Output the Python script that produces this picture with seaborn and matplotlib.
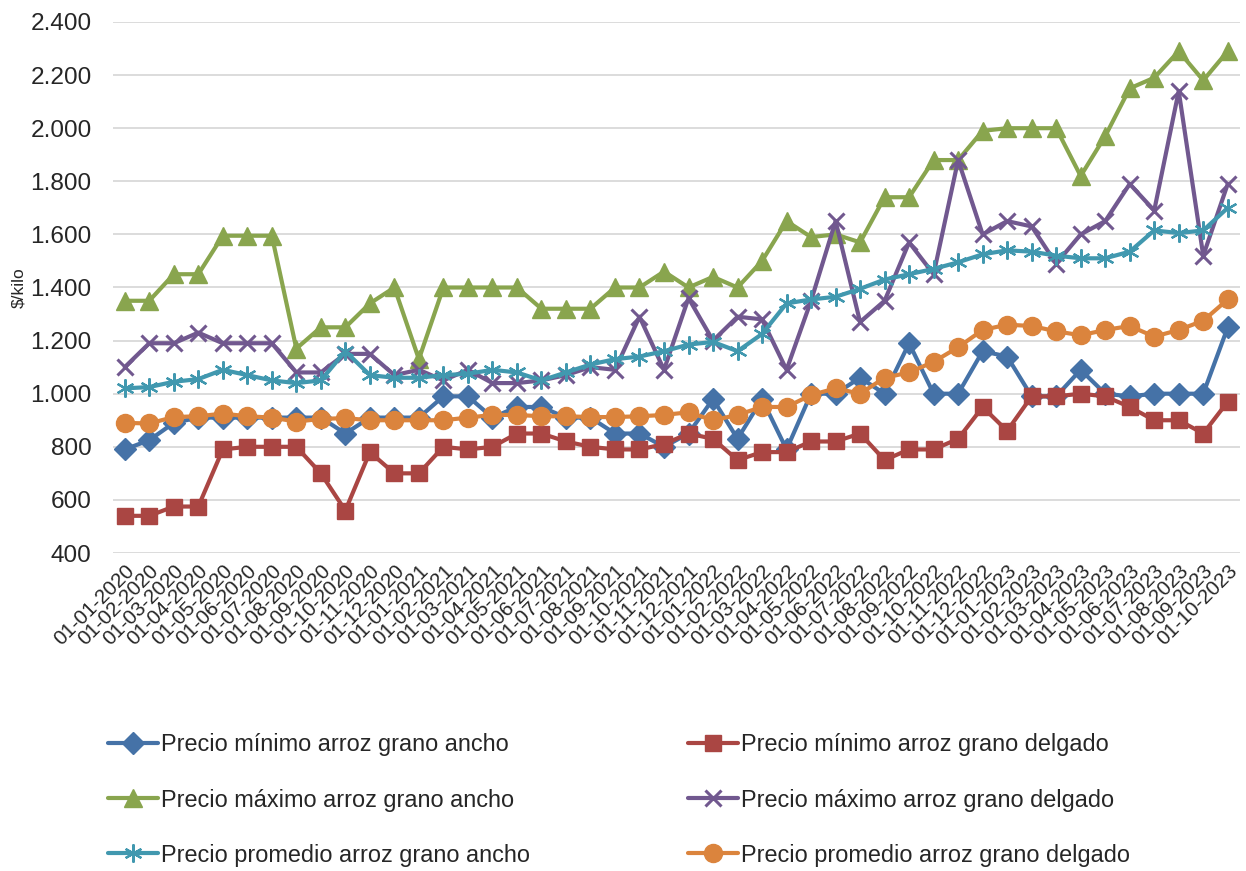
import numpy as np
import pandas as pd
import matplotlib
matplotlib.use("Agg")
import matplotlib.pyplot as plt
import seaborn as sns
from matplotlib.ticker import FuncFormatter, MultipleLocator

# Monthly rice prices ($/kilo), Jan 2020 - Oct 2023
fechas = list(pd.date_range("2020-01-01", "2023-10-01", freq="MS").strftime("%d-%m-%Y"))

min_ancho = [790, 825, 890, 910, 910, 910, 910, 910, 910, 850,
             910, 910, 910, 990, 990, 910, 950, 950, 910, 910,
             850, 850, 800, 850, 980, 830, 980, 790, 1000, 1000,
             1060, 1000, 1190, 1000, 1000, 1160, 1140, 990, 990, 1090,
             1000, 990, 1000, 1000, 1000, 1250]
min_delgado = [540, 540, 575, 575, 790, 800, 800, 800, 700, 560,
               780, 700, 700, 800, 790, 800, 850, 850, 820, 800,
               790, 790, 810, 850, 830, 750, 780, 780, 820, 820,
               850, 750, 790, 790, 830, 950, 860, 990, 990, 1000,
               990, 950, 900, 900, 850, 970]
max_ancho = [1350, 1350, 1450, 1450, 1595, 1595, 1595, 1170, 1250, 1250,
             1340, 1400, 1130, 1400, 1400, 1400, 1400, 1320, 1320, 1320,
             1400, 1400, 1460, 1400, 1440, 1400, 1500, 1650, 1590, 1600,
             1570, 1740, 1740, 1880, 1880, 1990, 2000, 2000, 2000, 1820,
             1970, 2150, 2190, 2290, 2180, 2290]
max_delgado = [1100, 1190, 1190, 1230, 1190, 1190, 1190, 1080, 1080, 1150,
               1150, 1070, 1090, 1050, 1090, 1040, 1040, 1050, 1070, 1100,
               1090, 1290, 1090, 1360, 1200, 1290, 1280, 1090, 1350, 1650,
               1270, 1350, 1570, 1450, 1880, 1600, 1650, 1630, 1490, 1600,
               1650, 1790, 1690, 2140, 1520, 1790]
prom_ancho = [1020, 1025, 1045, 1055, 1090, 1070, 1050, 1040, 1050, 1160,
              1070, 1060, 1060, 1070, 1075, 1090, 1080, 1050, 1080, 1110,
              1130, 1140, 1160, 1185, 1195, 1160, 1225, 1340, 1355, 1365,
              1395, 1430, 1450, 1470, 1495, 1525, 1540, 1535, 1520, 1510,
              1510, 1535, 1615, 1605, 1615, 1700]
prom_delgado = [890, 888, 912, 915, 925, 915, 910, 895, 905, 908,
                900, 900, 900, 900, 910, 920, 920, 915, 915, 912,
                912, 915, 920, 930, 900, 920, 950, 950, 995, 1020,
                1000, 1060, 1080, 1120, 1175, 1240, 1260, 1255, 1235, 1220,
                1240, 1255, 1215, 1240, 1275, 1355]

etiquetas = [
    "Precio mínimo arroz grano ancho",
    "Precio mínimo arroz grano delgado",
    "Precio máximo arroz grano ancho",
    "Precio máximo arroz grano delgado",
    "Precio promedio arroz grano ancho",
    "Precio promedio arroz grano delgado",
]
valores = [min_ancho, min_delgado, max_ancho, max_delgado, prom_ancho, prom_delgado]
colores = ["#4572A7", "#AA4643", "#89A54E", "#71588F", "#4198AF", "#DB843D"]
marcadores = ["D", "s", "^", "x", (6, 2, 0), "o"]
tam_marc = [11, 12, 13, 12, 13, 13]
borde_marc = [1, 1, 1, 2.2, 1.6, 1]

sns.set_theme(style="white")
plt.rcParams["font.family"] = ["Liberation Sans", "DejaVu Sans"]

W, H = 1246, 871
fig = plt.figure(figsize=(W / 100, H / 100), dpi=100)
left, right, top, bottom = 112.5, 1240, 22, 553
ax = fig.add_axes([left / W, 1 - bottom / H, (right - left) / W, (bottom - top) / H])

pos = np.arange(len(fechas))
for lab, vals, col, mk, ms, mew in zip(etiquetas, valores, colores, marcadores, tam_marc, borde_marc):
    sns.lineplot(x=pos, y=vals, ax=ax, color=col, linewidth=3.0, marker=mk,
                 markersize=ms, markeredgewidth=mew, markeredgecolor=col,
                 markerfacecolor=col, legend=False)
lineas = list(ax.lines)
for ln, lab in zip(lineas, etiquetas):
    ln.set_label(lab)

ax.set_xlim(-0.5, len(fechas) - 0.5)
ax.set_ylim(400, 2400)
ax.yaxis.set_major_locator(MultipleLocator(200))
ax.yaxis.set_major_formatter(FuncFormatter(lambda v, p: f"{v:,.0f}".replace(",", ".")))
ax.set_xticks(pos)
ax.set_xticklabels(fechas, rotation=45, ha="right", rotation_mode="anchor", fontsize=14.8)
ax.tick_params(axis="y", labelsize=17.6, length=0, pad=15)
ax.tick_params(axis="x", length=0, pad=6)
ax.yaxis.grid(True, color="#d9d9d9", linewidth=1.3)
ax.xaxis.grid(False)
for s in ax.spines.values():
    s.set_visible(False)
ax.set_axisbelow(True)
ax.set_xlabel("")
ax.set_ylabel("$/kilo", fontsize=12.5)
ax.yaxis.set_label_coords((26 - left) / (right - left), 0.5)

kw = dict(frameon=False, fontsize=16.9, handlelength=2.15, handletextpad=0.12,
          labelspacing=1.37, borderpad=0, borderaxespad=0, loc="center left")
fig.legend(handles=[lineas[0], lineas[2], lineas[4]], bbox_to_anchor=(108 / W, 1 - 800 / H), **kw)
fig.legend(handles=[lineas[1], lineas[3], lineas[5]], bbox_to_anchor=(688 / W, 1 - 800 / H), **kw)

fig.savefig("out.png", dpi=100)
